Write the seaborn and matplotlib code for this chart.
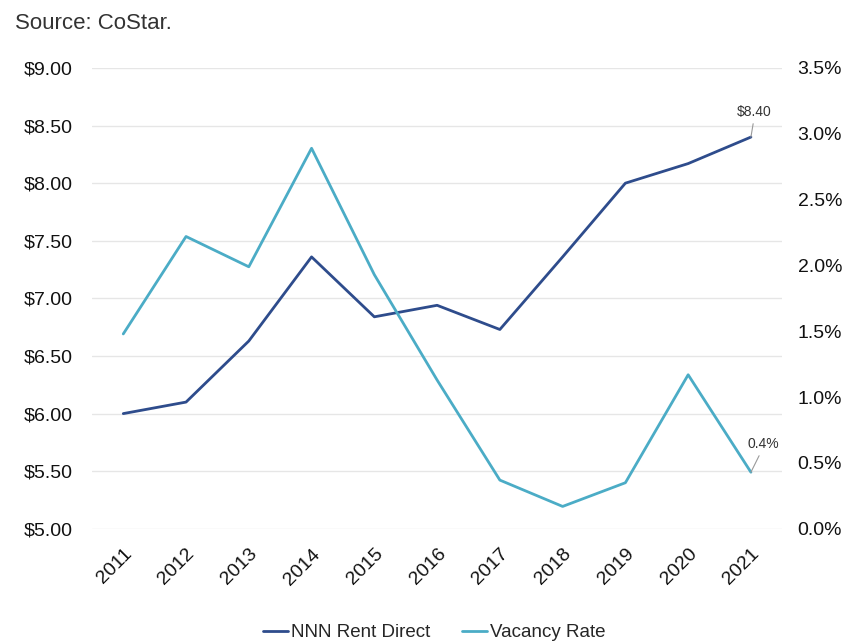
import matplotlib
matplotlib.use("Agg")
import matplotlib.pyplot as plt
import matplotlib.ticker as mticker
import seaborn as sns
import pandas as pd

years = ["2011", "2012", "2013", "2014", "2015", "2016", "2017", "2018", "2019", "2020", "2021"]
rent = [6.00, 6.10, 6.63, 7.36, 6.84, 6.94, 6.73, 7.36, 8.00, 8.17, 8.40]
vacancy = [1.48, 2.22, 1.99, 2.89, 1.93, 1.13, 0.37, 0.17, 0.35, 1.17, 0.43]

rent_color = "#2E4C8C"
vac_color = "#4BACC6"

sns.set_theme(style="white")
plt.rcParams["font.family"] = ["Liberation Sans", "DejaVu Sans"]

df = pd.DataFrame({"x": range(len(years)), "rent": rent, "vacancy": vacancy})

fig = plt.figure(figsize=(8.43, 6.41), dpi=100)
ax = fig.add_axes([0.109, 0.175, 0.819, 0.719])
ax2 = ax.twinx()

sns.lineplot(data=df, x="x", y="rent", ax=ax, color=rent_color, linewidth=2.0,
             label="NNN Rent Direct", legend=False)
sns.lineplot(data=df, x="x", y="vacancy", ax=ax2, color=vac_color, linewidth=2.0,
             label="Vacancy Rate", legend=False)

ax.set_ylim(5.0, 9.0)
ax.set_yticks([5.0 + 0.5 * i for i in range(9)])
ax.yaxis.set_major_formatter(mticker.FuncFormatter(lambda v, p: f"${v:.2f}"))
ax2.set_ylim(0, 3.5)
ax2.set_yticks([0.5 * i for i in range(8)])
ax2.yaxis.set_major_formatter(mticker.FuncFormatter(lambda v, p: f"{v:.1f}%"))

ax.set_xlim(-0.5, len(years) - 0.5)
ax.set_xticks(range(len(years)))
ax.set_xticklabels(years, rotation=45, ha="right", rotation_mode="anchor")
ax.set_xlabel("")
ax.set_ylabel("")
ax2.set_ylabel("")

ax.grid(axis="y", color="#E6E6E6", linewidth=1)
ax.grid(axis="x", visible=False)
for a in (ax, ax2):
    for s in a.spines.values():
        s.set_visible(False)
    a.tick_params(length=0, labelsize=14, colors="#111111")
ax.tick_params(axis="x", pad=12)
ax.tick_params(axis="y", pad=14)
ax2.tick_params(axis="y", pad=11)

# value callouts on the last year
last = len(years) - 1
ax.annotate(f"${rent[-1]:.2f}", xy=(last, rent[-1]), xytext=(3, 25),
            textcoords="offset pixels", fontsize=10, color="#333333",
            ha="center", va="center",
            arrowprops=dict(arrowstyle="-", color="#999999", lw=0.8,
                            shrinkA=1, shrinkB=0, relpos=(0.5, 0)))
ax2.annotate(f"{vacancy[-1]:.1f}%", xy=(last, vacancy[-1]), xytext=(12, 28),
             textcoords="offset pixels", fontsize=10, color="#333333",
             ha="center", va="center",
             arrowprops=dict(arrowstyle="-", color="#999999", lw=0.8,
                             shrinkA=1, shrinkB=0, relpos=(0.45, 0)))

fig.text(0.018, 0.963, "Source: CoStar.", fontsize=16, color="#333333", va="center")

h1, l1 = ax.get_legend_handles_labels()
h2, l2 = ax2.get_legend_handles_labels()
fig.legend(h1 + h2, l1 + l2, loc="center", bbox_to_anchor=(0.515, 0.013), ncol=2,
           frameon=False, fontsize=13.5, handlelength=1.35, handletextpad=0.15,
           columnspacing=1.7)

fig.savefig("out.png", dpi=100)
